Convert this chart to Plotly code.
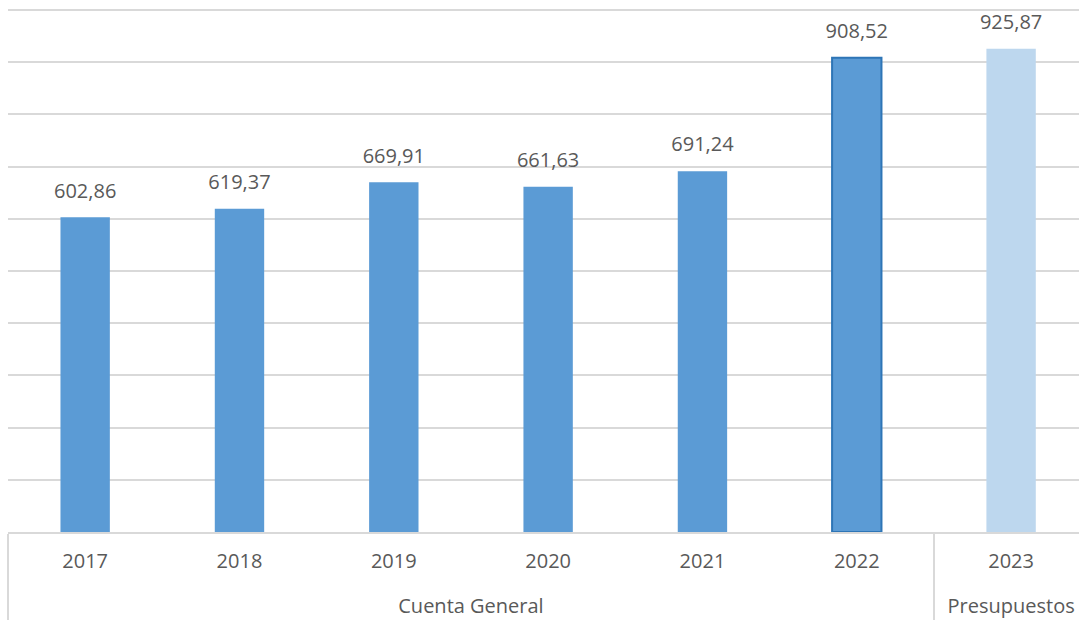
import plotly.graph_objects as go

groups = ["Cuenta General"] * 6 + ["Presupuestos"]
years = ["2017", "2018", "2019", "2020", "2021", "2022", "2023"]
values = [602.86, 619.37, 669.91, 661.63, 691.24, 908.52, 925.87]

fill_colors = ["#5B9BD5"] * 6 + ["#BDD7EE"]
line_colors = ["#5B9BD5"] * 5 + ["#2E75B6", "#BDD7EE"]
line_widths = [0, 0, 0, 0, 0, 2, 0]

group_labels = ["<br>" + g for g in groups]
xcats = [group_labels, years]

fig = go.Figure()
fig.add_trace(go.Bar(
    x=xcats,
    y=values,
    marker=dict(color=fill_colors, line=dict(color=line_colors, width=line_widths)),
    width=0.32,
    hoverinfo="skip",
))
fig.add_trace(go.Scatter(
    x=xcats,
    y=values,
    mode="markers+text",
    marker=dict(size=22, opacity=0),
    text=[f"{v:.2f}".replace(".", ",") for v in values],
    textposition="top center",
    textfont=dict(family="Open Sans", size=20, color="#595959"),
    cliponaxis=False,
    hoverinfo="skip",
))

fig.update_layout(
    width=1079, height=621,
    margin=dict(l=8, r=0, t=8, b=89),
    paper_bgcolor="white", plot_bgcolor="white",
    separators=",.",
    showlegend=False,
    font=dict(family="Open Sans", size=16, color="#595959"),
    yaxis=dict(range=[0, 1004], dtick=100, showticklabels=False,
               gridcolor="#D9D9D9", gridwidth=2, zeroline=False, fixedrange=True,
               automargin=False),
    xaxis=dict(type="multicategory", range=[-0.5, 6.44],
               showline=True, linecolor="#D9D9D9", linewidth=2,
               showdividers=True, dividercolor="#D9D9D9", dividerwidth=2,
               tickfont=dict(family="Open Sans", size=20, color="#595959"), ticks="",
               ticklabelstandoff=10, automargin=False),
)

fig.write_html(
    "out.html",
    config={"displayModeBar": False},
    post_script="document.body.style.margin='0';document.body.style.overflow='hidden';",
)
